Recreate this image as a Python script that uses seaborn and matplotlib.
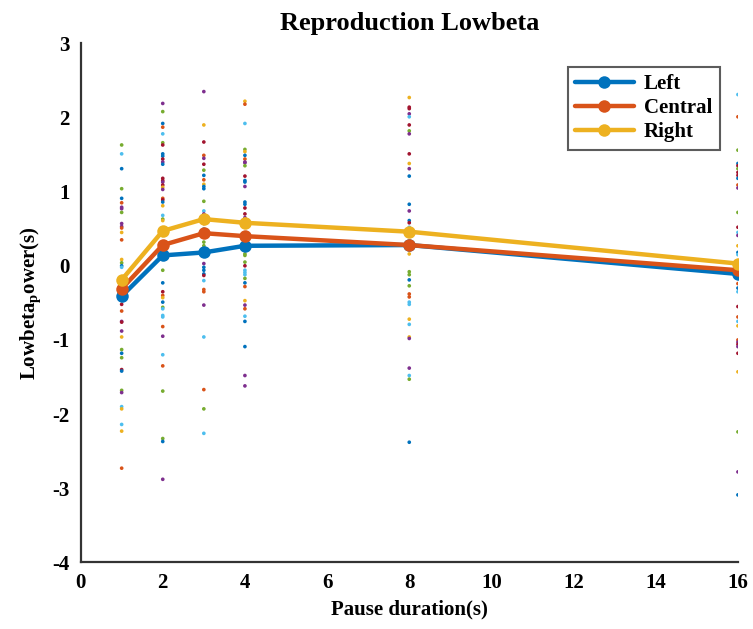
import numpy as np
import pandas as pd
import seaborn as sns
import matplotlib
matplotlib.use('Agg')
import matplotlib.pyplot as plt

# pause durations and channel means
durations = [1, 2, 3, 4, 8, 16]
channels = ['Left', 'Central', 'Right']
left_mean = [-0.41, 0.14, 0.18, 0.27, 0.28, -0.11]
central_mean = [-0.31, 0.28, 0.44, 0.40, 0.28, -0.06]
right_mean = [-0.19, 0.47, 0.63, 0.58, 0.46, 0.03]

# individual points per duration, with colour codes
# b=blue o=orange y=yellow p=purple g=green c=cyan r=dark red
pts_1 = [1.63, 1.51, 1.31, 1.04, 0.91, 0.85, 0.79, 0.77, 0.72, 0.57, 0.53, 0.51, 0.45, 0.35,
         0.085, 0.04, 0.0, -0.02, -0.15, -0.20, -0.33, -0.47, -0.52, -0.61, -0.75, -0.76,
         -0.88, -0.96, -1.13, -1.18, -1.24, -1.40, -1.42, -1.68, -1.71, -1.90, -1.93,
         -2.14, -2.23, -2.73]
col_1 = 'gcbgboppgppoyoygbcbrcyroprpygbgrbgpcycyo'
pts_2 = [2.19, 2.08, 1.92, 1.87, 1.78, 1.66, 1.63, 1.51, 1.48, 1.44, 1.40, 1.37, 1.18, 1.15,
         1.13, 1.09, 1.06, 1.03, 0.91, 0.89, 0.86, 0.81, 0.68, 0.63, 0.61, 0.48, 0.45, 0.41,
         -0.06, -0.23, -0.35, -0.40, -0.43, -0.49, -0.56, -0.58, -0.67, -0.69, -0.82, -0.95,
         -1.20, -1.35, -1.69, -2.33, -2.37, -2.88]
col_2 = 'pgbocgrbbrpbrrpryporbycgyrocgbroybgcccopcoggbp'
pts_3 = [2.35, 1.90, 1.67, 1.49, 1.45, 1.37, 1.29, 1.22, 1.16, 1.10, 1.07, 1.04, 0.87, 0.74,
         0.70, 0.65, 0.57, 0.50, 0.32, 0.27, 0.03, -0.02, -0.06, -0.11, -0.13, -0.20, -0.32,
         -0.35, -0.53, -0.96, -1.67, -1.93, -2.26]
col_3 = 'pyroprgboybbgcpprcggpbbbrcoopcogc'
pts_4 = [2.22, 2.18, 1.92, 1.57, 1.54, 1.49, 1.44, 1.40, 1.39, 1.35, 1.21, 1.15, 1.13, 1.07,
         0.86, 0.83, 0.78, 0.70, 0.65, 0.63, 0.39, 0.27, 0.16, 0.14, 0.05, 0.0, -0.06, -0.09,
         -0.12, -0.17, -0.23, -0.28, -0.47, -0.53, -0.58, -0.68, -0.75, -1.09, -1.48, -1.62]
col_4 = 'yocgyboppgrbbpbbrrpyrogggrcccgboypocbbpp'
pts_8 = [2.27, 2.14, 2.12, 2.05, 2.01, 1.90, 1.82, 1.78, 1.51, 1.38, 1.31, 1.21, 0.83, 0.74,
         0.61, 0.58, 0.52, 0.45, 0.42, 0.32, 0.24, 0.16, -0.08, -0.12, -0.19, -0.27, -0.38,
         -0.42, -0.49, -0.52, -0.72, -0.79, -0.96, -0.98, -1.38, -1.48, -1.53, -2.38]
col_8 = 'yrrpcrgprypbbpbrcocbbyggbgooccycyppcgb'
pts_16 = [2.31, 2.01, 1.56, 1.38, 1.35, 1.31, 1.26, 1.22, 1.18, 1.09, 1.05, 0.72, 0.52, 0.45,
          0.41, 0.27, 0.18, 0.15, -0.08, -0.14, -0.24, -0.30, -0.35, -0.55, -0.69, -0.75,
          -0.81, -1.00, -1.03, -1.06, -1.09, -1.18, -1.43, -2.24, -2.78, -3.09]
col_16 = 'cogbrgrrbopgrcpybcgpobcrocyoprprygpb'

palette = {'b': '#0072BD', 'o': '#D95319', 'y': '#EDB120', 'p': '#7E2F8E',
           'g': '#77AC30', 'c': '#4DBEEE', 'r': '#A2142F'}

rows = []
for d, pts, cols in zip(durations, [pts_1, pts_2, pts_3, pts_4, pts_8, pts_16],
                        [col_1, col_2, col_3, col_4, col_8, col_16]):
    for v, c in zip(pts, cols):
        rows.append({'duration': d, 'value': v, 'code': c})
dots = pd.DataFrame(rows)

means = pd.DataFrame({
    'duration': durations * 3,
    'value': left_mean + central_mean + right_mean,
    'channel': [ch for ch in channels for _ in durations],
})

sns.set_style('white')
plt.rcParams['font.family'] = ['Liberation Serif', 'DejaVu Serif']
plt.rcParams['font.weight'] = 'bold'
plt.rcParams['axes.unicode_minus'] = False
plt.rcParams['text.color'] = 'black'
plt.rcParams['axes.labelcolor'] = 'black'
plt.rcParams['mathtext.fontset'] = 'custom'
plt.rcParams['mathtext.rm'] = 'Liberation Serif:bold'
plt.rcParams['mathtext.bf'] = 'Liberation Serif:bold'

fig = plt.figure(figsize=(7.53, 6.29), dpi=100)
ax = fig.add_axes([0.107, 0.106, 0.873, 0.825])

sns.scatterplot(data=dots, x='duration', y='value', hue='code', palette=palette,
                s=7, linewidth=0, legend=False, ax=ax, zorder=1)
sns.lineplot(data=means, x='duration', y='value', hue='channel',
             palette=['#0072BD', '#D95319', '#EDB120'], marker='o', markersize=9,
             markeredgewidth=0, linewidth=3.2, ax=ax, zorder=3)

ax.set_xlim(0, 16)
ax.set_ylim(-4, 3)
ax.set_xticks(range(0, 17, 2))
ax.set_yticks(range(-4, 4))
ax.tick_params(direction='in', length=5, width=1.3, labelsize=15, colors='#222222',
               labelcolor='black', pad=8)
for lab in ax.get_xticklabels() + ax.get_yticklabels():
    lab.set_fontweight('bold')
ax.spines['top'].set_visible(False)
ax.spines['right'].set_visible(False)
for sp in ['left', 'bottom']:
    ax.spines[sp].set_linewidth(1.6)
    ax.spines[sp].set_color('#333333')

ax.set_title('Reproduction Lowbeta', fontsize=19, fontweight='bold', pad=10, color='black')
ax.set_xlabel('Pause duration(s)', fontsize=15, fontweight='bold', labelpad=4)
ax.set_ylabel(r'Lowbeta$_{\mathrm{p}}$ower(s)', fontsize=15, fontweight='bold', labelpad=6)

leg = ax.legend(loc='upper right', fontsize=15, frameon=True, fancybox=False,
                handlelength=2.8, handletextpad=0.5, borderpad=0.35, labelspacing=0.2,
                bbox_to_anchor=(0.988, 0.975))
leg.get_frame().set_edgecolor('#333333')
leg.get_frame().set_linewidth(1.5)
for t in leg.get_texts():
    t.set_fontweight('bold')
    t.set_color('black')

fig.savefig('out.png', dpi=100)
